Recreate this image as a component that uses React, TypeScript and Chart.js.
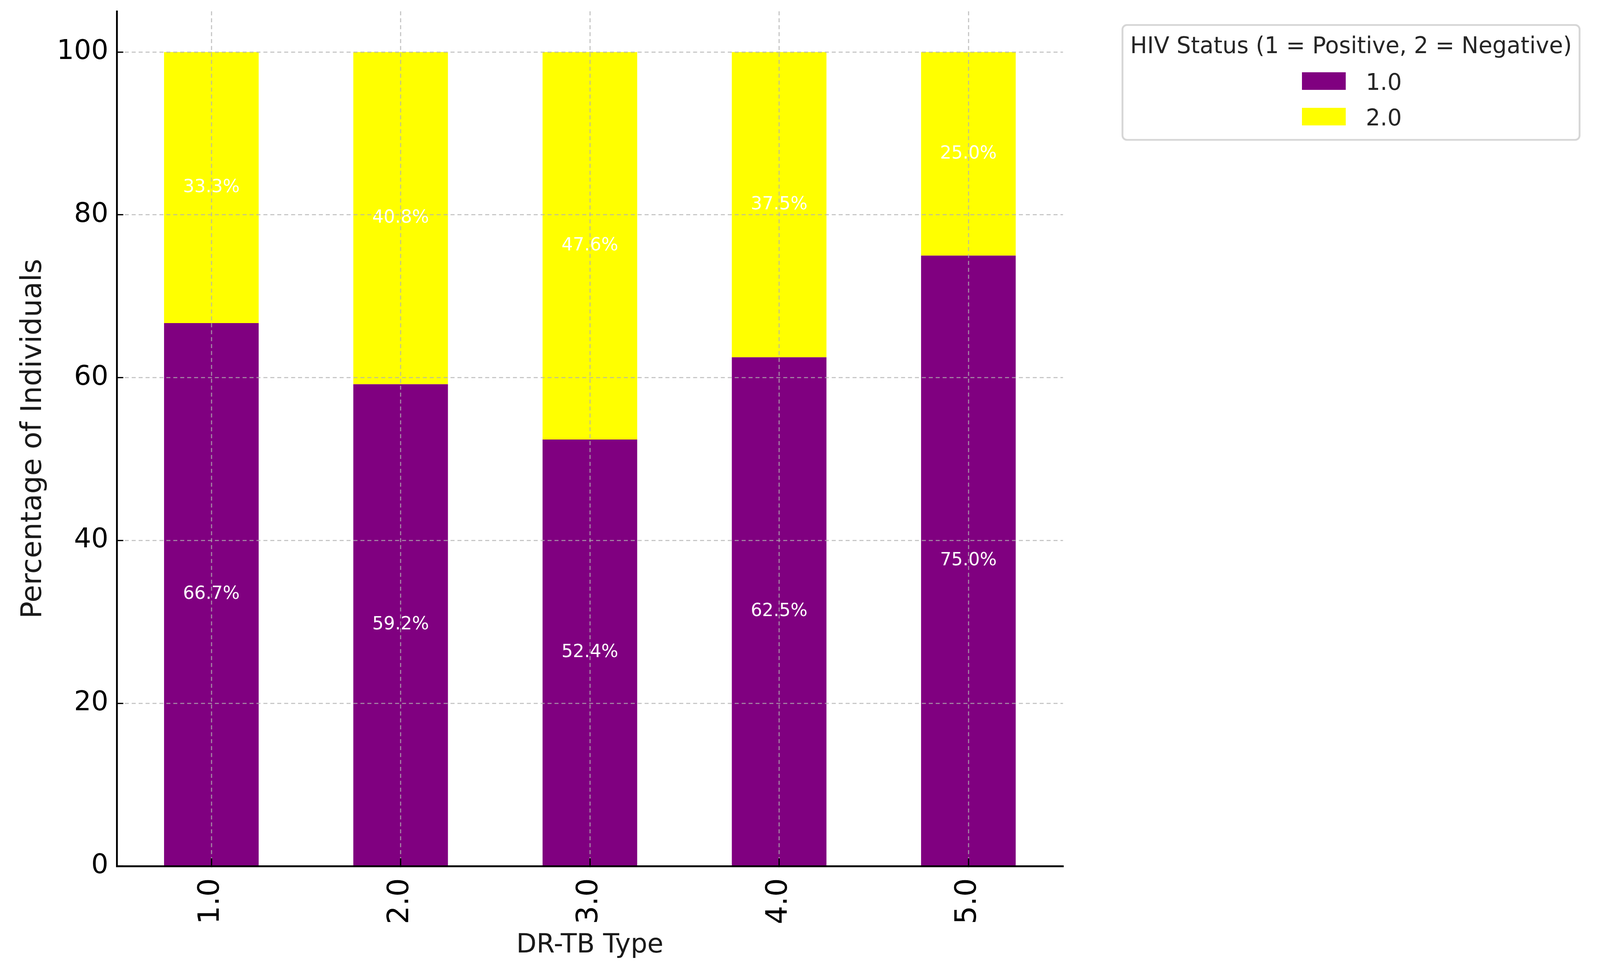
import React, { useEffect, useRef } from "react";
import { Chart, registerables } from "chart.js";

Chart.register(...registerables);

const categories = ["1.0", "2.0", "3.0", "4.0", "5.0"];
const seriesLabels = ["1.0", "2.0"];
const positiveValues = [66.7, 59.2, 52.4, 62.5, 75.0];
const negativeValues = [33.3, 40.8, 47.6, 37.5, 25.0];
const yTicks = [0, 20, 40, 60, 80, 100];
const LEGEND_TITLE = "HIV Status (1 = Positive, 2 = Negative)";
const X_TITLE = "DR-TB Type";
const Y_TITLE = "Percentage of Individuals";

const REF_W = 4386;
const REF_H = 2488;
const FONT = "'DejaVu Sans', 'Liberation Sans', sans-serif";

export default function App() {
  const ref = useRef<HTMLCanvasElement | null>(null);

  useEffect(() => {
    document.body.style.margin = "0";
    document.body.style.overflow = "hidden";
    if (!ref.current) return;
    const vw = document.documentElement.clientWidth || window.innerWidth;
    const vh = document.documentElement.clientHeight || window.innerHeight;
    const sx = vw / REF_W;
    const sy = vh / REF_H;
    const px = (v: number) => v * sx;
    const py = (v: number) => v * sy;
    const lw = (v: number) => v * Math.min(sx, sy);

    const barLabelPlugin = {
      id: "barLabels",
      afterDatasetsDraw(chart: any) {
        const ctx = chart.ctx;
        ctx.save();
        ctx.font = `${px(49)}px ${FONT}`;
        ctx.fillStyle = "#ffffff";
        ctx.textAlign = "center";
        ctx.textBaseline = "middle";
        chart.data.datasets.forEach((ds: any, i: number) => {
          const meta = chart.getDatasetMeta(i);
          meta.data.forEach((el: any, j: number) => {
            const v = ds.data[j];
            const y = (el.y + el.base) / 2;
            ctx.fillText(`${v.toFixed(1)}%`, el.x, y);
          });
        });
        ctx.restore();
      },
    };

    const boxLegendPlugin = {
      id: "boxLegend",
      afterDraw(chart: any) {
        const ctx = chart.ctx;
        const L = px(3077), T = py(64), R = px(4330), B = py(358);
        ctx.save();
        ctx.beginPath();
        (ctx as any).roundRect(L, T, R - L, B - T, lw(12));
        ctx.fillStyle = "rgba(255,255,255,0.8)";
        ctx.fill();
        ctx.lineWidth = lw(5);
        ctx.strokeStyle = "#d6d6d6";
        ctx.stroke();
        ctx.font = `${px(62)}px ${FONT}`;
        ctx.fillStyle = "#262626";
        ctx.textAlign = "center";
        ctx.textBaseline = "alphabetic";
        ctx.fillText(LEGEND_TITLE, (L + R) / 2, py(136));
        ctx.textAlign = "left";
        chart.data.datasets.forEach((ds: any, i: number) => {
          const base = py(230 + i * 91);
          ctx.fillStyle = ds.backgroundColor;
          ctx.fillRect(px(3569), base - py(45), px(120), py(45));
          ctx.fillStyle = "#262626";
          ctx.fillText(ds.label, px(3569 + 120 + 55), base);
        });
        ctx.restore();
      },
    };

    const gridColor = "rgba(176,176,176,0.7)";
    const dash = [lw(11), lw(8)];
    const chart = new Chart(ref.current, {
      type: "bar",
      data: {
        labels: categories,
        datasets: [
          {
            label: seriesLabels[0],
            data: positiveValues,
            backgroundColor: "#800080",
            barPercentage: 0.5,
            categoryPercentage: 1.0,
          },
          {
            label: seriesLabels[1],
            data: negativeValues,
            backgroundColor: "#ffff00",
            barPercentage: 0.5,
            categoryPercentage: 1.0,
          },
        ],
      },
      plugins: [barLabelPlugin, boxLegendPlugin],
      options: {
        animation: false,
        responsive: true,
        maintainAspectRatio: false,
        layout: { padding: { top: py(29), right: px(REF_W - 2914), left: 0, bottom: 0 } },
        plugins: {
          legend: { display: false },
          tooltip: { enabled: false },
        },
        scales: {
          x: {
            stacked: true,
            offset: true,
            grid: {
              z: 1,
              offset: false,
              color: gridColor,
              lineWidth: lw(3.3),
              drawTicks: true,
              tickLength: -py(20),
              tickWidth: lw(3.5),
              tickColor: "#000000",
              tickBorderDash: [],
            },
            border: { display: true, color: "#000000", width: lw(5), dash, z: 2 },
            ticks: {
              autoSkip: false,
              minRotation: 90,
              maxRotation: 90,
              padding: py(51),
              color: "#000000",
              font: { family: FONT, size: py(74) },
            },
            title: {
              display: true,
              text: X_TITLE,
              color: "#1a1a1a",
              font: { family: FONT, size: px(72) },
              padding: { top: 0, bottom: py(27) },
            },
            afterFit(scale: any) {
              scale.height = py(REF_H - 2217);
              scale.paddingLeft = 0;
              scale.paddingRight = 0;
            },
          },
          y: {
            stacked: true,
            min: 0,
            max: 105,
            afterBuildTicks(scale: any) {
              scale.ticks = yTicks.map((v) => ({ value: v }));
            },
            grid: {
              z: 1,
              color: gridColor,
              lineWidth: lw(3.3),
              drawTicks: true,
              tickLength: -px(18),
              tickWidth: lw(3.5),
              tickColor: "#000000",
              tickBorderDash: [],
            },
            border: { display: true, color: "#000000", width: lw(5), dash, z: 2 },
            ticks: {
              includeBounds: false,
              padding: px(41),
              color: "#000000",
              font: { family: FONT, size: px(74) },
            },
            title: {
              display: true,
              text: Y_TITLE,
              color: "#1a1a1a",
              font: { family: FONT, size: py(73) },
              padding: { top: px(45), bottom: 0 },
            },
            afterFit(scale: any) {
              scale.width = px(320);
              scale.paddingTop = 0;
              scale.paddingBottom = 0;
            },
          },
        },
      } as any,
    });
    return () => chart.destroy();
  }, []);

  return (
    <div style={{ position: "absolute", left: 0, top: 0, width: "100vw", height: "100vh", background: "#ffffff" }}>
      <canvas ref={ref} />
    </div>
  );
}
